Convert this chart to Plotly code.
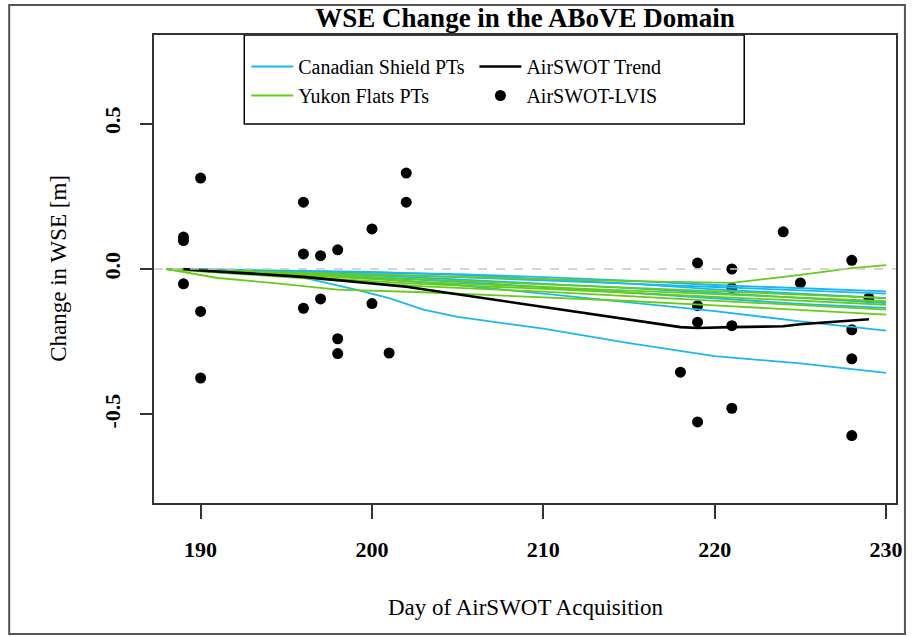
import plotly.graph_objects as go

# ---------------- data ----------------
x_ticks = [190, 200, 210, 220, 230]
y_ticks = [-0.5, 0.0, 0.5]
y_tick_labels = ["-0.5", "0.0", "0.5"]

# Canadian Shield pressure transducers
cs_days = [189, 192, 196, 200, 205, 210, 215, 220, 225, 230]
cs_pt1 = [0, -0.004, -0.008, -0.012, -0.018, -0.028, -0.040, -0.055, -0.066, -0.077]
cs_pt2 = [0, -0.005, -0.010, -0.018, -0.028, -0.038, -0.050, -0.062, -0.074, -0.085]
cs_pt3 = [0, -0.006, -0.012, -0.022, -0.036, -0.050, -0.066, -0.082, -0.100, -0.117]
cs_pt4 = [0, -0.008, -0.016, -0.028, -0.044, -0.062, -0.082, -0.102, -0.120, -0.134]
cs_pt5 = [0, -0.008, -0.018, -0.032, -0.055, -0.085, -0.115, -0.145, -0.180, -0.212]
cs_pt6 = [0, -0.003, -0.006, -0.010, -0.020, -0.035, -0.050, -0.070, -0.085, -0.100]
cs_low_days = [189, 192, 196, 199, 201, 203, 205, 210, 215, 220, 225, 230]
cs_low = [0, -0.01, -0.03, -0.07, -0.10, -0.14, -0.165, -0.205, -0.255, -0.30, -0.325, -0.357]

# Yukon Flats pressure transducers
yf_days = [188, 191, 194, 198, 203, 210, 215, 220, 225, 230]
yf_pt2 = [0, -0.031, -0.047, -0.071, -0.080, -0.097, -0.110, -0.125, -0.142, -0.157]
yf_pt3 = [0, -0.010, -0.020, -0.035, -0.052, -0.068, -0.082, -0.097, -0.110, -0.123]
yf_pt4 = [0, -0.008, -0.016, -0.028, -0.045, -0.062, -0.075, -0.088, -0.100, -0.111]
yf_pt5 = [0, -0.012, -0.024, -0.040, -0.060, -0.078, -0.094, -0.110, -0.126, -0.140]
yf_pt6 = [0, -0.006, -0.012, -0.022, -0.036, -0.052, -0.064, -0.076, -0.088, -0.100]
yf_top_days = [188, 194, 203, 210, 215, 221, 225, 228, 230]
yf_top = [0, -0.010, -0.025, -0.035, -0.042, -0.048, -0.020, 0.003, 0.013]

# AirSWOT trend
trend_days = [189, 190, 196, 197, 198, 200, 201, 202, 218, 219, 221, 224, 225, 228, 229]
trend_wse = [0, -0.005, -0.027, -0.033, -0.038, -0.050, -0.055, -0.061, -0.200, -0.203,
             -0.200, -0.197, -0.190, -0.176, -0.173]

# AirSWOT - LVIS differences
lvis_day = [189, 189, 189, 190, 190, 190, 196, 196, 196, 197, 197, 198, 198, 198,
            200, 200, 201, 202, 202, 218, 219, 219, 219, 219, 221, 221, 221, 221,
            224, 225, 228, 228, 228, 228, 229]
lvis_wse = [0.110, 0.098, -0.051, 0.313, -0.146, -0.375, 0.230, 0.052, -0.135, 0.046, -0.103,
            0.066, -0.240, -0.291, 0.138, -0.119, -0.289, 0.330, 0.230, -0.355, 0.021,
            -0.126, -0.183, -0.526, 0.0, -0.065, -0.195, -0.479, 0.128, -0.048, 0.030,
            -0.209, -0.309, -0.573, -0.100]

x_range = [187.28, 230.58]
y_range = [-0.805, 0.805]
zero_level = 0.0

# ---------------- styling ----------------
BLUE = "#1ab8f0"
GREEN = "#66cc1a"
SERIF = "Liberation Serif"
W, H = 913, 637
L, R, T, B = 154, 11, 35, 134
pw, ph = W - L - R, H - T - B


def px_x(p):
    return (p - L) / pw


def px_y(p):
    return (H - B - p) / ph


fig = go.Figure()

fig.add_trace(go.Scatter(x=lvis_day, y=lvis_wse, mode="markers",
                         marker=dict(color="black", size=11),
                         name="AirSWOT-LVIS", legend="legend2", legendrank=2))

cs_sets = [(cs_days, cs_pt1), (cs_days, cs_pt2), (cs_days, cs_pt3), (cs_days, cs_pt4),
           (cs_days, cs_pt5), (cs_days, cs_pt6), (cs_low_days, cs_low)]
for i, (d, v) in enumerate(cs_sets):
    fig.add_trace(go.Scatter(x=d, y=v, mode="lines", line=dict(color=BLUE, width=1.8),
                             name="Canadian Shield PTs", legend="legend",
                             showlegend=(i == 0), legendrank=1))

yf_sets = [(yf_top_days, yf_top), (yf_days, yf_pt2), (yf_days, yf_pt3), (yf_days, yf_pt4),
           (yf_days, yf_pt5), (yf_days, yf_pt6)]
for i, (d, v) in enumerate(yf_sets):
    fig.add_trace(go.Scatter(x=d, y=v, mode="lines", line=dict(color=GREEN, width=1.8),
                             name="Yukon Flats PTs", legend="legend",
                             showlegend=(i == 0), legendrank=2))

fig.add_trace(go.Scatter(x=trend_days, y=trend_wse, mode="lines",
                         line=dict(color="black", width=2.6),
                         name="AirSWOT Trend", legend="legend2", legendrank=1))

# zero reference line
fig.add_shape(type="line", xref="paper", x0=0, x1=1, yref="y", y0=zero_level, y1=zero_level,
              line=dict(color="#c8c8c8", width=1.3, dash="dash"), layer="above")

# legend box
fig.add_shape(type="rect", xref="paper", yref="paper",
              x0=px_x(245), x1=px_x(749), y0=px_y(124), y1=px_y(35),
              line=dict(color="black", width=1.5), fillcolor="rgba(0,0,0,0)", layer="below")

# outer frame
fig.add_shape(type="rect", xref="paper", yref="paper",
              x0=px_x(8), x1=px_x(911), y0=px_y(634), y1=px_y(5),
              line=dict(color="#555555", width=2), fillcolor="rgba(0,0,0,0)")

axis_common = dict(showgrid=False, zeroline=False, showline=True, mirror=True,
                   linecolor="#333333", linewidth=1.8, ticks="outside",
                   tickcolor="#333333", tickwidth=1.8)

fig.update_xaxes(range=x_range, tickmode="array", tickvals=x_ticks,
                 ticktext=[str(t) for t in x_ticks], ticklen=14, ticklabelstandoff=12,
                 tickfont=dict(family=SERIF, size=22, color="black", weight="bold"),
                 **axis_common)
fig.update_yaxes(range=y_range, tickmode="array", tickvals=y_ticks, ticktext=y_tick_labels,
                 ticklen=12, tickangle=-90, ticklabelstandoff=11,
                 tickfont=dict(family=SERIF, size=22, color="black", weight="bold"),
                 **axis_common)

fig.add_annotation(text="Day of AirSWOT Acquisition", xref="paper", yref="paper",
                   x=px_x(528), y=px_y(607), showarrow=False, xanchor="center", yanchor="middle",
                   font=dict(family=SERIF, size=23, color="black"))
fig.add_annotation(text="Change in WSE [m]", xref="paper", yref="paper",
                   x=px_x(57), y=px_y(268), showarrow=False, textangle=-90,
                   xanchor="center", yanchor="middle",
                   font=dict(family=SERIF, size=23, color="black"))

legend_common = dict(orientation="v", bgcolor="rgba(0,0,0,0)", borderwidth=0,
                     font=dict(family=SERIF, size=20, color="black"),
                     xanchor="left", yanchor="top", tracegroupgap=0, itemwidth=42)

fig.update_layout(
    width=W, height=H,
    margin=dict(l=L, r=R, t=T, b=B),
    paper_bgcolor="white", plot_bgcolor="white",
    title=dict(text="WSE Change in the ABoVE Domain", x=px_x(528), xref="paper",
               xanchor="center", y=1 - 18 / H, yref="container", yanchor="middle",
               font=dict(family=SERIF, size=27, color="black", weight="bold")),
    legend=dict(x=px_x(247), y=px_y(47), **legend_common),
    legend2=dict(x=px_x(477), y=px_y(47), **legend_common),
)

fig.write_html("out.html")
